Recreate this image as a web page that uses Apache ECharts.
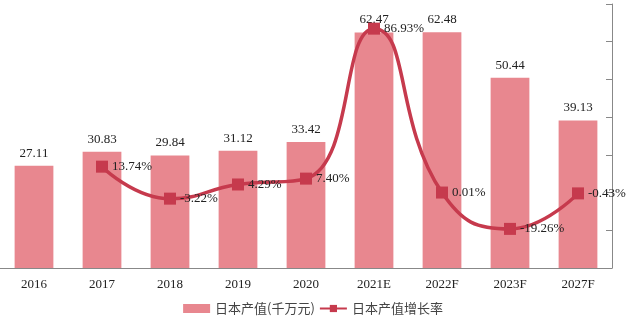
<!DOCTYPE html>
<html>
<head>
<meta charset="utf-8">
<script src="https://cdn.jsdelivr.net/npm/echarts@6/dist/echarts.min.js"></script>
<style>html,body{margin:0;padding:0;background:#fff;}#c{width:626px;height:326px;}</style>
</head>
<body>
<div id="c"></div>
<script>
const categories = ['2016','2017','2018','2019','2020','2021E','2022F','2023F','2027F'];
const outputValues = [27.11, 30.83, 29.84, 31.12, 33.42, 62.47, 62.48, 50.44, 39.13];
const growthRates = [null, 13.74, -3.22, 4.29, 7.40, 86.93, 0.01, -19.26, -0.43];
const seriesNames = ['日本产值(千万元)', '日本产值增长率'];

const serif = '"Liberation Serif", "Times New Roman", serif';
const chart = echarts.init(document.getElementById('c'));
chart.setOption({
  animation: false,
  grid: { left: 0, right: 14, top: 4, bottom: 58 },
  legend: {
    bottom: 6, left: 'center',
    itemWidth: 27, itemHeight: 9, itemGap: 4,
    textStyle: { fontFamily: '"Noto Sans CJK SC", serif', fontSize: 13, color: '#444' },
    data: [
      { name: seriesNames[0], icon: 'rect' },
      { name: seriesNames[1] }
    ]
  },
  xAxis: {
    type: 'category', data: categories,
    axisLine: { lineStyle: { color: '#888' } },
    axisTick: { show: false },
    axisLabel: { fontFamily: serif, fontSize: 13, color: '#222', margin: 10 }
  },
  yAxis: [
    { type: 'value', min: 0, max: 70, interval: 10, show: false, splitLine: { show: false } },
    { type: 'value', min: -40, max: 100, interval: 20, position: 'right',
      axisLine: { show: true, lineStyle: { color: '#888' } },
      axisTick: { show: true, inside: true, length: 6, lineStyle: { color: '#888' } },
      axisLabel: { show: false }, splitLine: { show: false } }
  ],
  series: [
    {
      name: seriesNames[0], type: 'bar', data: outputValues, barWidth: '57%',
      itemStyle: { color: '#e8878f' },
      label: { show: true, position: 'top', distance: 6, fontFamily: serif, fontSize: 13, color: '#222' }
    },
    {
      name: seriesNames[1], type: 'line', yAxisIndex: 1, data: growthRates, smooth: true,
      symbol: 'rect', symbolSize: 12,
      lineStyle: { color: '#c63a4d', width: 3.5 },
      itemStyle: { color: '#c63a4d' },
      label: { show: true, position: 'right', distance: 4, fontFamily: serif, fontSize: 13, color: '#222',
        formatter: p => p.value.toFixed(2) + '%' }
    }
  ]
});
</script>
</body>
</html>
